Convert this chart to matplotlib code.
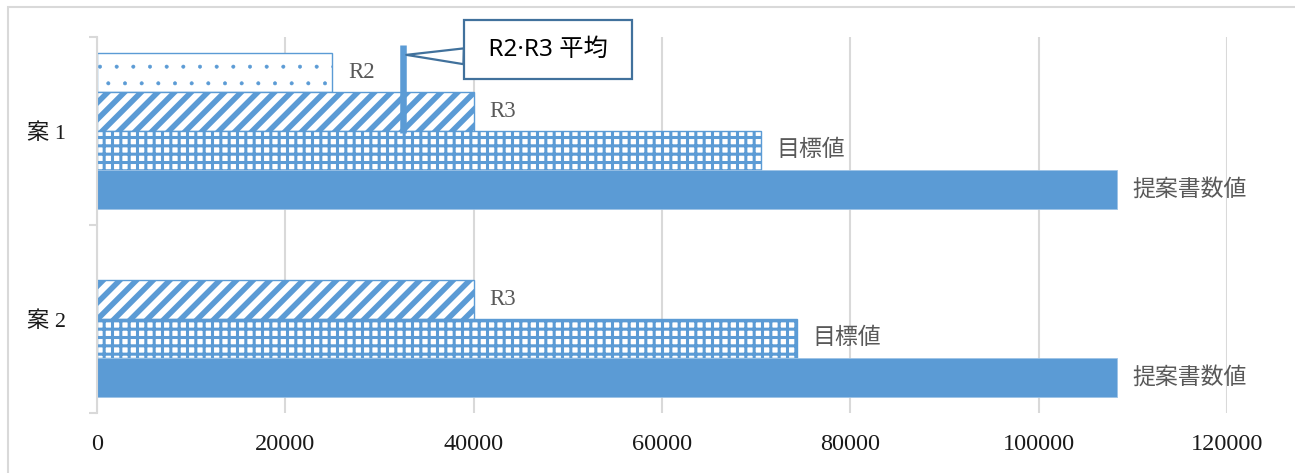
import numpy as np
import matplotlib
matplotlib.use('Agg')
import matplotlib.pyplot as plt
from matplotlib.patches import Rectangle

# fonts: serif latin + CJK fallback (Mincho-like labels in the original)
SERIF = ['Liberation Serif', 'Noto Sans CJK JP']
SANS = ['Noto Sans', 'Noto Sans CJK JP']
plt.rcParams['font.family'] = SERIF

# data
categories = ['案 1', '案 2']
series_names = ['R2', 'R3', '目標値', '提案書数値']
r2_vals = [25000, np.nan]
r3_vals = [40000, 40000]
target_vals = [70500, 74300]
proposal_vals = [108300, 108300]
x_ticks = [0, 20000, 40000, 60000, 80000, 100000, 120000]
callout_text = '\u00a0R2·R3 平均\u00a0'

BLUE = '#5B9BD5'
GRID = '#D9D9D9'
LABEL = '#595959'

fig = plt.figure(figsize=(12.95, 4.73), dpi=100)
ax = fig.add_axes([97 / 1295, 1 - 413 / 473, (1227 - 97) / 1295, (413 - 37) / 473])

y = np.arange(len(categories))
h = 0.2074
series = [r2_vals, r3_vals, target_vals, proposal_vals]
hatches = ['.', '//', '++', None]
hatch_lw = [0.4, 4.0, 2.2, 1.0]

for i, (vals, name) in enumerate(zip(series, series_names)):
    plt.rcParams['hatch.linewidth'] = hatch_lw[i]
    if hatches[i] is None:
        bars = ax.barh(y + (i - 1.5) * h, vals, height=h, color=BLUE,
                       edgecolor='#9DC3E6', linewidth=0.6, zorder=2)
    else:
        bars = ax.barh(y + (i - 1.5) * h, vals, height=h, facecolor='white',
                       edgecolor=BLUE, hatch=hatches[i], linewidth=1.0, zorder=2)
    for b in bars:
        if hasattr(b, 'set_hatch_linewidth'):
            b.set_hatch_linewidth(hatch_lw[i])
    labels = ['' if np.isnan(v) else name for v in vals]
    ax.bar_label(bars, labels=labels, padding=11.5, fontsize=16.5,
                 color=LABEL, family=SERIF)

# R2/R3 average marker + callout
avg = np.mean([r2_vals[0], r3_vals[0]])
ax.plot([avg, avg], [-0.455, 0.01], color=BLUE, lw=4.7, solid_capstyle='butt', zorder=3)
ax.annotate(callout_text, xy=(avg + 350, -0.405), xytext=(102, 3.5),
            textcoords='offset points', ha='center', va='center',
            fontsize=17.5, family=SANS, color='black', zorder=5,
            bbox=dict(boxstyle='square,pad=0.72', fc='white', ec='#41719C', lw=1.6),
            arrowprops=dict(arrowstyle='wedge,tail_width=0.65,shrink_factor=0.5',
                            fc='white', ec='#41719C', lw=1.6, relpos=(0, 0.22),
                            shrinkA=0, shrinkB=0))

ax.set_xlim(0, 120000)
ax.set_ylim(1.5, -0.5)
ax.set_xticks(x_ticks)
ax.set_xticklabels([str(t) for t in x_ticks], fontsize=17.5, color='#1A1A1A')
ax.tick_params(axis='x', length=0, pad=15)
ax.grid(axis='x', color=GRID, lw=1.5, zorder=0)
ax.set_axisbelow(True)

ax.set_yticks([-0.5, 0.5, 1.5])
ax.set_yticklabels([])
ax.set_yticks(y, minor=True)
ax.set_yticklabels(categories, minor=True, fontsize=16, color='#1A1A1A')
ax.tick_params(axis='y', which='major', length=6, width=1.5, color=GRID)
ax.tick_params(axis='y', which='minor', length=0, pad=22)

for s in ['top', 'right', 'bottom']:
    ax.spines[s].set_visible(False)
ax.spines['left'].set_color(GRID)
ax.spines['left'].set_linewidth(1.5)

# outer chart frame (only top/left edges visible in the crop)
fig.add_artist(Rectangle((8 / 1295, -0.1), 1.2, (473 - 7) / 473 + 0.1,
                         transform=fig.transFigure, fill=False, ec=GRID, lw=1.5))

fig.savefig('out.png', dpi=100)
